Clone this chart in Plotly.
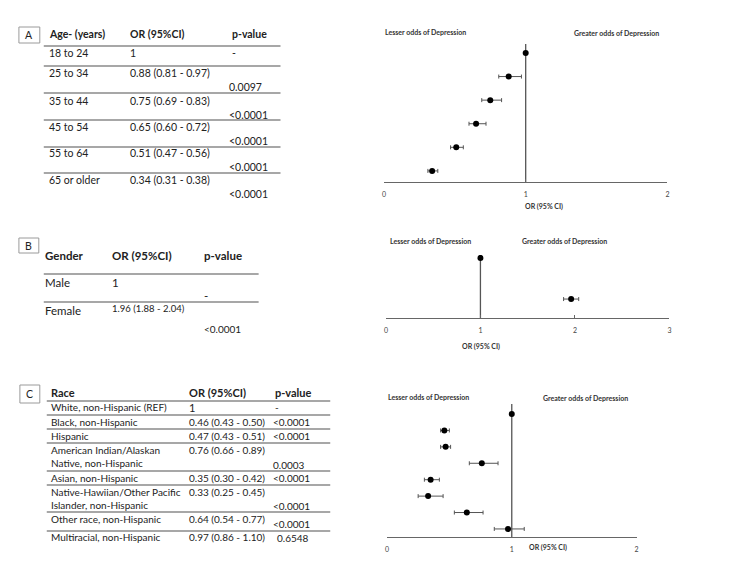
import plotly.graph_objects as go

W, H = 750, 579
FONT = "Lato"
TXT = "#222222"
LINE = "#8a8a8a"

# ---------------- DATA ----------------
age_groups = ["18 to 24", "25 to 34", "35 to 44", "45 to 54", "55 to 64", "65 or older"]
age_or = [1.00, 0.88, 0.75, 0.65, 0.51, 0.34]
age_lo = [None, 0.81, 0.69, 0.60, 0.47, 0.31]
age_hi = [None, 0.97, 0.83, 0.72, 0.56, 0.38]
age_p = ["-", "0.0097", "<0.0001", "<0.0001", "<0.0001", "<0.0001"]

gender_groups = ["Male", "Female"]
gender_or = [1.00, 1.96]
gender_lo = [None, 1.88]
gender_hi = [None, 2.04]
gender_p = ["-", "<0.0001"]

race_groups = ["White, non-Hispanic (REF)", "Black, non-Hispanic", "Hispanic",
               "American Indian/Alaskan<br>Native, non-Hispanic", "Asian, non-Hispanic",
               "Native-Hawiian/Other Pacific<br>Islander, non-Hispanic",
               "Other race, non-Hispanic", "Multiracial, non-Hispanic"]
race_or = [1.00, 0.46, 0.47, 0.76, 0.35, 0.33, 0.64, 0.97]
race_lo = [None, 0.43, 0.43, 0.66, 0.30, 0.25, 0.54, 0.86]
race_hi = [None, 0.50, 0.51, 0.89, 0.42, 0.45, 0.77, 1.10]
race_p = ["-", "<0.0001", "<0.0001", "0.0003", "<0.0001", "<0.0001", "<0.0001", "0.6548"]

or_label = "OR (95%CI)"
axis_title = "OR (95% CI)"
lesser = "Lesser odds of Depression"
greater = "Greater odds of Depression"


def px(x):
    return x / W


def py(y):
    return 1 - y / H


def or_text(o, lo, hi):
    if lo is None:
        return "1"
    return f"{o:.2f} ({lo:.2f} - {hi:.2f})"


fig = go.Figure()
annotations = []
shapes = []


def text(x, y, s, size=10.5, bold=False, color=TXT, xanchor="left"):
    annotations.append(dict(
        x=px(x - 2 if xanchor == "left" else x), y=py(y), xref="paper", yref="paper",
        text=(f"<b>{s}</b>" if bold else s),
        showarrow=False, xanchor=xanchor, yanchor="middle", align="left",
        font=dict(family=FONT, size=size, color=color)))


def hline(x0, x1, y, color=LINE, w=1.3):
    shapes.append(dict(type="line", xref="paper", yref="paper",
                       x0=px(x0), x1=px(x1), y0=py(y), y1=py(y),
                       line=dict(color=color, width=w)))


def box(x0, y0, x1, y1, letter):
    shapes.append(dict(type="rect", xref="paper", yref="paper",
                       x0=px(x0), x1=px(x1), y0=py(y0), y1=py(y1),
                       line=dict(color="#9a9a9a", width=1), fillcolor="white"))
    annotations.append(dict(x=px((x0 + x1) / 2), y=py((y0 + y1) / 2), xref="paper", yref="paper",
                            text=letter, showarrow=False, xanchor="center", yanchor="middle",
                            font=dict(family=FONT, size=10.5, color=TXT)))


# ---------------- TABLE A ----------------
box(17, 27, 38, 43, "A")
text(47, 34, "Age- (years)", bold=True)
text(129, 34, or_label, bold=True)
text(231, 34, "p-value", bold=True)
hline(42, 280, 46)
a_top = [53, 73, 101, 127, 153, 180]
for i, g in enumerate(age_groups):
    text(47, a_top[i], g)
    text(129, a_top[i], or_text(age_or[i], age_lo[i], age_hi[i]))
    if i == 0:
        text(231, a_top[i], age_p[i])
    else:
        text(228, a_top[i] + 14, age_p[i])
for yl in [66, 93, 120, 147, 173]:
    hline(42, 280, yl)

# ---------------- TABLE B ----------------
box(17, 238, 37, 253, "B")
text(43, 255, "Gender", size=11.5, bold=True)
text(111, 255, or_label, size=11.5, bold=True)
text(203, 255, "p-value", size=11.5, bold=True)
hline(42, 258, 274)
text(43, 282, gender_groups[0], size=11.5)
text(111, 282, or_text(gender_or[0], gender_lo[0], gender_hi[0]), size=11.5)
text(203, 295, gender_p[0], size=11.5)
hline(42, 258, 302)
text(43, 310, gender_groups[1], size=11.5)
text(111, 308, or_text(gender_or[1], gender_lo[1], gender_hi[1]), size=9.5)
text(203, 329, gender_p[1], size=10)

# ---------------- TABLE C ----------------
box(18, 385, 38, 403, "C")
text(49, 392, "Race", size=11, bold=True)
text(188, 392, or_label, size=11, bold=True)
text(274, 392, "p-value", size=11, bold=True)
hline(45, 330, 401)
c_first = [407, 422, 436, 450, 478, 492, 519, 537]
c_p = [407, 422, 436, 465, 478, 506, 524, 538]
c_px = [274, 272, 272, 272, 272, 272, 272, 276]
for i, g in enumerate(race_groups):
    parts = g.split("<br>")
    text(49, c_first[i], parts[0], size=10)
    if len(parts) > 1:
        text(49, c_first[i] + 13, parts[1], size=10)
    text(188, c_first[i], or_text(race_or[i], race_lo[i], race_hi[i]), size=(11 if i == 0 else 10))
    text(c_px[i], c_p[i], race_p[i], size=10)
for yl in [415, 429, 443, 471, 485, 512, 531]:
    hline(45, 330, yl)

# ---------------- FOREST PLOTS ----------------
panels = [
    (age_or, age_lo, age_hi, (384, 669), (44, 182), 2, (5.47, -0.38)),
    (gender_or, gender_lo, gender_hi, (386, 671), (255, 318), 3, (1.46, -0.07)),
    (race_or, race_lo, race_hi, (387, 638), (404, 537), 2, (7.49, -0.61)),
]

for k, (o, lo, hi, xd, yd, xmax, yr) in enumerate(panels):
    n = k + 1
    xa = "x" if n == 1 else f"x{n}"
    ya = "y" if n == 1 else f"y{n}"
    plus = [(h - v) if h is not None else 0 for v, h in zip(o, hi)]
    minus = [(v - l) if l is not None else 0 for v, l in zip(o, lo)]
    fig.add_trace(go.Scatter(
        x=o, y=list(range(len(o))), mode="markers", xaxis=xa, yaxis=ya,
        marker=dict(color="black", size=6),
        error_x=dict(type="data", symmetric=False, array=plus, arrayminus=minus,
                     color="#555555", thickness=1, width=2),
        showlegend=False, hoverinfo="x"))
    xk = "xaxis" if n == 1 else f"xaxis{n}"
    yk = "yaxis" if n == 1 else f"yaxis{n}"
    fig.layout[xk] = dict(domain=[px(xd[0]), px(xd[1])], range=[0, xmax], anchor=ya,
                          tickvals=list(range(xmax + 1)), showline=True, linecolor="#666666",
                          linewidth=1.3, ticks="inside", ticklen=3, tickcolor="#666666",
                          showgrid=False, zeroline=False, ticklabelstandoff=5,
                          tickfont=dict(family=FONT, size=7, color="#444444"), fixedrange=True)
    fig.layout[yk] = dict(domain=[py(yd[1]), py(yd[0])], range=list(yr), anchor=xa,
                          visible=False, showgrid=False, zeroline=False, fixedrange=True)
    shapes.append(dict(type="line", xref=xa, yref=f"{ya} domain", x0=1, x1=1, y0=0, y1=1,
                       line=dict(color="#555555", width=1.3), layer="below"))

# headings & axis titles
text(385, 32, lesser, size=7, bold=True, color="#333333")
text(575, 33, greater, size=7, bold=True, color="#333333")
text(545, 206, axis_title, size=7, bold=True, color="#333333", xanchor="center")

text(390, 241, lesser, size=7, bold=True, color="#333333")
text(523, 241, greater, size=7, bold=True, color="#333333")
text(482, 346, axis_title, size=7, bold=True, color="#333333", xanchor="center")

text(388, 397, lesser, size=7, bold=True, color="#333333")
text(544, 398, greater, size=7, bold=True, color="#333333")
text(530, 547, axis_title, size=7, bold=True, color="#333333")

fig.update_layout(width=W, height=H, margin=dict(l=0, r=0, t=0, b=0),
                  paper_bgcolor="white", plot_bgcolor="white",
                  annotations=annotations, shapes=shapes,
                  font=dict(family=FONT, color=TXT))

fig.write_html("out.html")
